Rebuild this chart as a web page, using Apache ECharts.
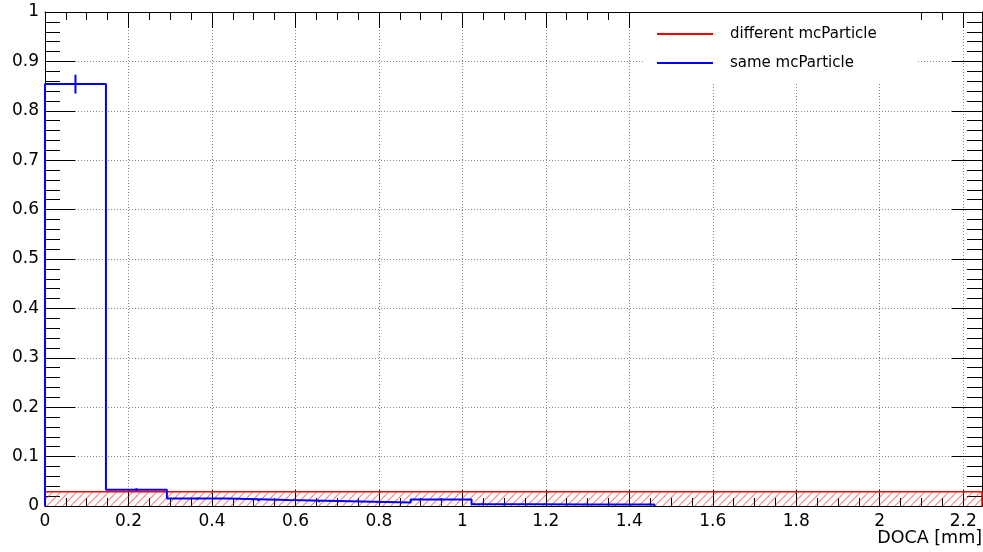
<!DOCTYPE html>
<html>
<head>
<meta charset="utf-8">
<script src="https://cdn.jsdelivr.net/npm/echarts@6/dist/echarts.min.js"></script>
<style>
html,body{margin:0;padding:0;background:#fff;}
#chart{width:983px;height:552px;}
</style>
</head>
<body>
<div id="chart"></div>
<script>
// ---- data ----
const xTickLabels = ['0','0.2','0.4','0.6','0.8','1','1.2','1.4','1.6','1.8','2','2.2'];
const yTickLabels = ['0','0.1','0.2','0.3','0.4','0.5','0.6','0.7','0.8','0.9','1'];
const xMax = 2.245;
const seriesNames = ['different mcParticle', 'same mcParticle'];
// "same mcParticle" histogram (blue)
const blueEdges = [0, 0.146, 0.292, 0.438, 0.584, 0.730, 0.876, 1.022, 1.168, 1.314, 1.460];
const blueValues = [0.854, 0.033, 0.015, 0.012, 0.0095, 0.007, 0.013, 0.0035, 0.003, 0.003];
const blueErrors = [0.019, 0.003, 0.002, 0.002, 0.002, 0.0015, 0.002, 0.001, 0.001, 0.001];
// "different mcParticle" histogram (red, hatched)
const redEdges = [0, 2.245];
const redValues = [0.029];

function stepData(edges, values) {
  const d = [[edges[0], 0]];
  for (let i = 0; i < values.length; i++) d.push([edges[i], values[i]]);
  d.push([edges[edges.length - 1], values[values.length - 1]]);
  d.push([edges[edges.length - 1], 0]);
  return d;
}
const errData = blueValues.map((v, i) => [(blueEdges[i] + blueEdges[i + 1]) / 2, v, blueErrors[i]]);
const redBins = redValues.map((v, i) => [redEdges[i], redEdges[i + 1], v]);

const FONT = 'DejaVu Sans';
const chart = echarts.init(document.getElementById('chart'), null, {renderer: 'canvas'});

const xBase = {type: 'value', min: 0, max: xMax, interval: 0.2};
const yBase = {type: 'value', min: 0, max: 1, interval: 0.1};

chart.setOption({
  animation: false,
  backgroundColor: '#fff',
  grid: {left: 45, right: 1, top: 12, bottom: 46, containLabel: false},
  xAxis: [
    Object.assign({}, xBase, {
      position: 'bottom',
      axisLine: {show: true, onZero: false, lineStyle: {color: '#000', width: 1}},
      axisTick: {show: true, inside: true, length: 16, lineStyle: {color: '#000'}},
      minorTick: {show: true, splitNumber: 4, length: 8, lineStyle: {color: '#000'}},
      splitLine: {show: true, lineStyle: {color: '#888', type: [1, 2], width: 1}},
      axisLabel: {
        show: true, margin: 7, color: '#000', fontFamily: FONT, fontSize: 17,
        showMaxLabel: false,
        formatter: function (v) {
          const i = Math.round(v / 0.2);
          return Math.abs(v - i * 0.2) < 1e-6 && xTickLabels[i] !== undefined ? xTickLabels[i] : '';
        }
      }
    }),
    Object.assign({}, xBase, {
      position: 'top',
      axisLine: {show: true, onZero: false, lineStyle: {color: '#000', width: 1}},
      axisTick: {show: true, inside: true, length: 16, lineStyle: {color: '#000'}},
      minorTick: {show: true, splitNumber: 4, length: 8, lineStyle: {color: '#000'}},
      splitLine: {show: false},
      axisLabel: {show: false}
    })
  ],
  yAxis: [
    Object.assign({}, yBase, {
      position: 'left',
      axisLine: {show: true, onZero: false, lineStyle: {color: '#000', width: 1}},
      axisTick: {show: true, inside: true, length: 30, lineStyle: {color: '#000'}},
      minorTick: {show: true, splitNumber: 5, length: 15, lineStyle: {color: '#000'}},
      splitLine: {show: true, lineStyle: {color: '#888', type: [1, 2], width: 1}},
      axisLabel: {
        show: true, margin: 6, color: '#000', fontFamily: FONT, fontSize: 17,
        formatter: function (v) {
          const i = Math.round(v / 0.1);
          return yTickLabels[i] !== undefined ? yTickLabels[i] : '';
        }
      }
    }),
    Object.assign({}, yBase, {
      position: 'right',
      axisLine: {show: true, onZero: false, lineStyle: {color: '#000', width: 1}},
      axisTick: {show: true, inside: true, length: 30, lineStyle: {color: '#000'}},
      minorTick: {show: true, splitNumber: 5, length: 15, lineStyle: {color: '#000'}},
      splitLine: {show: false},
      axisLabel: {show: false}
    })
  ],
  legend: {
    orient: 'vertical',
    left: 643, top: 13,
    padding: [12, 40, 12, 14],
    backgroundColor: '#fff',
    itemWidth: 56, itemHeight: 2,
    itemGap: 11,
    icon: 'rect',
    selectedMode: false,
    textStyle: {color: '#000', fontFamily: FONT, fontSize: 15, lineHeight: 18, padding: [0, 0, 0, 12]},
    data: [
      {name: seriesNames[0], itemStyle: {color: '#ff0000'}},
      {name: seriesNames[1], itemStyle: {color: '#0000ff'}}
    ]
  },
  graphic: [{
    type: 'text', right: 1, top: 529,
    style: {text: 'DOCA [mm]', font: '17.5px "' + FONT + '"', fill: '#000'}
  }],
  series: [
    {
      name: 'hatch', type: 'custom',
      xAxisIndex: 0, yAxisIndex: 0,
      data: redBins,
      z: 1,
      silent: true,
      renderItem: function (params, api) {
        const pA = api.coord([api.value(0), api.value(2)]);
        const pB = api.coord([api.value(1), 0]);
        const x0 = pA[0], yT = pA[1], x1 = pB[0], yB = pB[1];
        const children = [];
        const step = 8;
        for (let c = x0 + yT; c <= x1 + yB; c += step) {
          const xa = Math.max(x0, c - yB), xb = Math.min(x1, c - yT);
          if (xa < xb) {
            children.push({
              type: 'line',
              shape: {x1: xa, y1: c - xa, x2: xb, y2: c - xb},
              style: {stroke: 'rgba(255,0,0,0.75)', lineWidth: 1}
            });
          }
        }
        return {type: 'group', children: children};
      }
    },
    {
      name: seriesNames[0], type: 'line', step: 'end',
      xAxisIndex: 0, yAxisIndex: 0,
      data: stepData(redEdges, redValues),
      showSymbol: false, symbol: 'none',
      itemStyle: {color: '#ff0000'},
      lineStyle: {color: '#ff0000', width: 1.5},
      z: 2
    },
    {
      name: seriesNames[1], type: 'line', step: 'end',
      xAxisIndex: 0, yAxisIndex: 0,
      data: stepData(blueEdges, blueValues),
      showSymbol: false, symbol: 'none',
      itemStyle: {color: '#0000ff'},
      lineStyle: {color: '#0000ff', width: 2},
      z: 3
    },
    {
      name: 'errors', type: 'custom',
      xAxisIndex: 0, yAxisIndex: 0,
      data: errData,
      z: 4,
      renderItem: function (params, api) {
        const x = api.value(0), v = api.value(1), e = api.value(2);
        const p1 = api.coord([x, v - e]);
        const p2 = api.coord([x, v + e]);
        return {
          type: 'line',
          shape: {x1: p1[0], y1: p1[1], x2: p2[0], y2: p2[1]},
          style: {stroke: '#0000ff', lineWidth: 2}
        };
      }
    }
  ]
});
</script>
</body>
</html>
